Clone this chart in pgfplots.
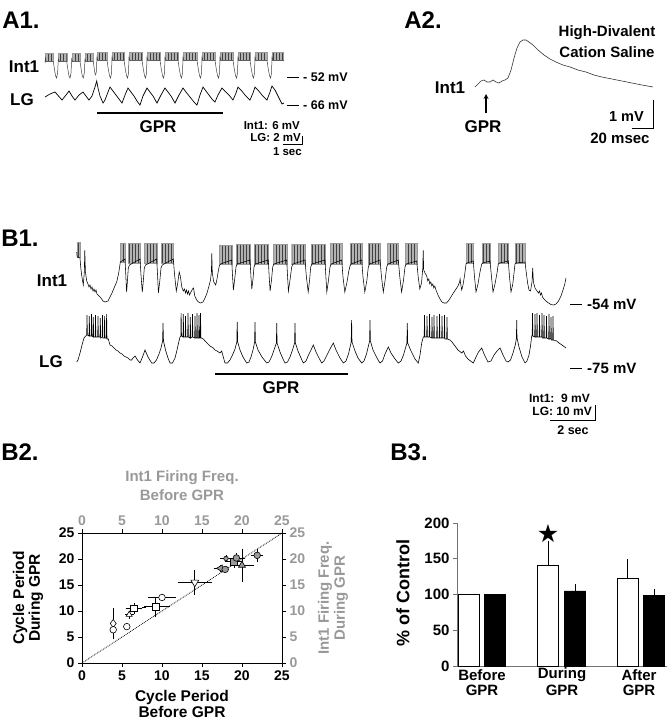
\documentclass[border=0pt]{standalone}
\usepackage{fontspec}
\setmainfont{Liberation Sans}
\newfontfamily\dejavu{DejaVu Sans}
\usepackage{pgfplots}
\pgfplotsset{compat=1.18}
\usetikzlibrary{patterns}
\newcommand{\fs}[1]{\fontsize{#1}{#1}\selectfont\bfseries}
\newcommand{\burst}[4]{\addplot[fill=black!30,draw=black!40,line width=0.3pt,postaction={pattern=vertical lines,pattern color=black!75}] coordinates {(#1,#4) (#1,#3) (#2,#3) (#2,#4)} -- cycle;}
\pgfplotsset{b2err/.style={error bars/.cd, x dir=both, y dir=both, x explicit, y explicit, error bar style={line width=0.7pt, black}, error mark options={line width=0.7pt, mark size=2pt, black}}}
\begin{document}
\begin{tikzpicture}
\useasboundingbox (0pt,0pt) rectangle (669pt,-720pt);
% ================= overlay axis in pixel units =================
\begin{axis}[at={(0pt,0pt)},anchor=north west,scale only axis,width=669pt,height=720pt,
  xmin=0,xmax=669,ymin=0,ymax=720,y dir=reverse,hide axis,clip=false]
% ---------- A1 ----------
\burst{45}{53.3}{53}{61.5}\burst{58.3}{66.7}{53}{61.5}\burst{71.7}{80}{53}{61.5}\burst{85}{93.3}{53}{61.5}
\burst{97}{107}{52}{60.5}\burst{112}{124}{52}{60.5}\burst{129}{142}{52}{60.5}\burst{147}{160}{52}{60.5}
\burst{165}{178}{52}{60.5}\burst{183}{197}{52}{60.5}\burst{202}{215}{52}{60.5}\burst{220}{233}{52}{60.5}
\burst{238}{250}{52}{60.5}\burst{255}{267}{52}{60.5}\burst{272}{283}{52}{60.5}
\addplot[black!75,line width=0.5pt] coordinates {
(45,63)(45.4,58)(46.2,61.5)(53.3,61.5)(54.4,69)(55.6,76)(56.6,78)(57.6,73)(58.3,59)
(59.2,61.5)(66.7,61.5)(67.8,69)(69,76)(70,78)(71,73)(71.7,59)
(72.6,61.5)(80,61.5)(81.1,69)(82.3,76)(83.3,78)(84.3,73)(85,59)
(85.9,61.5)(93.3,61.5)(94.3,69)(95.2,75)(96.2,73)(97,57)
(98,60.5)(107,60.5)(108.3,69)(109.6,76)(110.6,78)(111.5,73)(112,57)
(113,60.5)(124,60.5)(125.3,69)(126.6,76)(127.6,78)(128.5,73)(129,57)
(130,60.5)(142,60.5)(143.3,69)(144.6,76)(145.6,78)(146.5,73)(147,57)
(148,60.5)(160,60.5)(161.3,69)(162.6,76)(163.6,78)(164.5,73)(165,57)
(166,60.5)(178,60.5)(179.3,69)(180.6,76)(181.6,78)(182.5,73)(183,57)
(184,60.5)(197,60.5)(198.3,69)(199.6,76)(200.6,78)(201.5,73)(202,57)
(203,60.5)(215,60.5)(216.3,69)(217.6,76)(218.6,78)(219.5,73)(220,57)
(221,60.5)(233,60.5)(234.3,69)(235.6,76)(236.6,78)(237.5,73)(238,57)
(239,60.5)(250,60.5)(251.3,69)(252.6,76)(253.6,78)(254.5,73)(255,57)
(256,60.5)(267,60.5)(268.3,69)(269.6,76)(270.6,78)(271.5,73)(272,57)
(273,60.5)(283,60.5)(284,61)};
\addplot[black,line width=0.7pt] coordinates {
(45,97)(50,94)(55,92)(58.5,96)(62,100)(66,95)(69,91)(72,96)(75,100)(79,95)(83,92)(86,96)(89,100)(92,96)(95,87)(96.7,81)
(98,88)(100,96)(103,103)(105,100)(108,92)(110,87)(113,91)(116,95)(119,99)(122,103)(125,95)(128,88)(131,92)(134,96)
(137,101)(140,105)(143,96)(147,88)(150,92)(153,96)(157,103)(161,95)(165,88)(168,92)(171,96)(175,103)(179,95)(183,88)
(186,92)(190,97)(194,102)(197,105)(200,95)(203,87)(206,91)(209,95)(212,99)(215,102)(218,95)(222,88)(225,91)(229,95)
(233,100)(236,93)(238,87)(241,90)(245,95)(250,100)(253,93)(255,87)(258,90)(262,95)(267,100)(270,92)(272,86)(275,90)
(278,96)(282,104)(284,103)};
\node[font=\fs{24}] at (21,20) {A1.};
\node[font=\fs{17}] at (24,67) {Int1};
\node[font=\fs{17}] at (22,100) {LG};
\draw[line width=1pt] (287,77) -- (299,77);
\node[font=\fs{12.5},anchor=west,inner sep=0] at (303,77) {- 52 mV};
\draw[line width=1pt] (287,105) -- (299,105);
\node[font=\fs{12.5},anchor=west,inner sep=0] at (303,105) {- 66 mV};
\draw[line width=2.2pt] (97,113) -- (223,113);
\node[font=\fs{17}] at (158,127) {GPR};
\node[font=\fs{11.5},anchor=east,inner sep=0] at (300,126) {Int1: 6 mV};
\node[font=\fs{11.5},anchor=east,inner sep=0] at (301,138) {LG: 2 mV};
\draw[line width=1pt] (283,144) -- (302,144) -- (302,136);
\node[font=\fs{11.5},anchor=east,inner sep=0] at (302,152) {1 sec};
% ---------- A2 ----------
\addplot[black!80,line width=0.6pt] coordinates {
(475,87)(478,84)(481,81)(484,80)(487,82)(490,82)(493,80)(496,82)(499,83)(502,81)(505,80)(508,78)(511,70)(514,58)
(517,48)(520,42)(523,40)(526,40)(529,42)(533,45)(538,50)(544,55)(550,59)(556,62)(563,65)(570,67)(578,70)(586,72)
(594,75)(602,77)(612,79)(622,81)(632,83)(642,85)(653,87)};
\node[font=\fs{24}] at (423,20) {A2.};
\node[font=\fs{15}] at (607,33) {High-Divalent};
\node[font=\fs{15}] at (607,52) {Cation Saline};
\node[font=\fs{17}] at (450,88) {Int1};
\draw[->,>=stealth,line width=1.2pt] (486,113) -- (486,94);
\node[font=\fs{17}] at (483,127) {GPR};
\draw[line width=1pt] (632,128) -- (653,128) -- (653,100);
\node[font=\fs{14.5},anchor=east,inner sep=0] at (644,117) {1 mV};
\node[font=\fs{15}] at (620,138) {20 msec};
% ---------- B1 ----------
\burst{76.7}{80}{242}{257}\burst{120.3}{125}{243}{262}\burst{128.3}{140}{243}{263}\burst{144.3}{156.7}{243}{263}
\burst{161}{173.3}{243}{263}\burst{219.3}{231.7}{245}{264}\burst{236}{250}{244}{264}\burst{254}{268.3}{244}{264}
\burst{272.7}{286.7}{244}{264}\burst{291.7}{305}{244}{264}\burst{310.7}{325}{244}{264}\burst{330}{341.7}{243}{264}
\burst{350}{361.7}{243}{264}\burst{368.3}{380}{243}{264}\burst{386.7}{398.3}{243}{264}\burst{405}{416.7}{243}{264}
\burst{466}{473.3}{243}{263}\burst{481.7}{490}{243}{263}\burst{498.3}{508.3}{243}{263}\burst{515}{525}{243}{263}
\addplot[black,line width=0.55pt] coordinates {
(76.7,252)(77.2,257)(80,258)(80.8,268)(81.8,276)(83.3,285)(84.3,272)(84.8,250)(85.4,272)(86.7,281)(88,284)(89,287)
(90,285)(91,289)(92,287)(93,291)(94,289)(95,292)(96,290)(97,294)(99,296)(101,298)(103,301)(105,302)(108,301)(110,297)
(112,293)(114,288)(116.7,282)(118.5,274)(119.5,268)(120.3,262)(125,259)(125.8,275)(126.6,292)(127.5,280)(128.3,268)
(129.5,265)(140,259)(141,275)(142.3,292)(143.4,280)(144.3,268)(145.5,265)(156.7,259)(157.6,276)(158.4,293)(159.8,281)
(161,268)(162.2,265)(173.3,259)(174.5,274)(176.3,291)(177.6,284)(179.2,272)(180.3,276)(181.8,287)(183.3,291)(184.5,289)
(185.5,293)(186.5,290)(187.5,294)(188.5,291)(189.5,295)(191,292)(192.5,289)(193.5,288)(194.8,296)(196.7,300)(198.5,302)
(200.5,303)(203,302)(205,298)(207,293)(209,286)(210.5,280)(211.4,272)(211.8,253)(212.3,273)(213.8,282)(215.7,285)
(217,279)(218.3,271)(219.3,266)(220.5,264)(231.7,260)(232.6,277)(233.4,290)(234.6,280)(236,267)(237.2,264)(250,260)
(250.9,276)(251.8,289)(253,279)(254,267)(255.2,264)(268.3,260)(269.2,277)(270.1,291)(271.5,280)(272.7,267)(273.9,264)
(286.7,260)(287.6,277)(288.4,291)(290,280)(291.7,267)(292.9,264)(305,260)(306.4,277)(308.2,292)(309.6,280)(310.7,267)
(311.9,264)(325,260)(325.9,277)(326.8,292)(328.5,280)(330,267)(331.2,264)(341.7,260)(343,277)(344.8,292)(347,282)
(348.8,271)(350,266)(351.2,264)(361.7,260)(363,277)(364.8,292)(366.8,281)(368.3,267)(369.5,264)(380,260)(381.5,277)
(383.3,292)(385,281)(386.7,267)(387.9,264)(398.3,260)(399.8,277)(401.6,292)(403.4,281)(405,267)(406.2,264)(416.7,261)
(418.2,277)(419.8,289)(421.5,283)(422.8,268)(423.2,250)(423.7,270)(425,273)(426.7,276)(427.8,281)(428.8,279)(429.8,284)
(430.8,282)(431.8,286)(432.8,284)(433.8,288)(434.8,286)(436,290)(438,295)(440,299)(442,302)(444,303)(446.5,303)
(449,300)(451.5,296)(454,292)(456,289)(458,286)(459.6,282)(460.1,279)(460.7,284)(461.7,290)(463,285)(464.5,276)
(465.5,268)(466,264)(467.2,263)(473.3,261)(474.5,277)(476,292)(478,284)(480,272)(481.7,264)(482.9,263)(490,261)
(491.5,277)(493,292)(495,284)(497,273)(498.3,264)(499.5,263)(508.3,261)(509.5,277)(511,292)(512.8,284)(514,273)
(515,264)(516.2,263)(525,262)(526.2,272)(527.6,283)(529,290)(530.5,291)(532,282)(532.7,268)(533.4,282)(535,288)
(537,291)(538.5,293)(539.5,291)(540.5,295)(541.5,293)(542.5,297)(544,299)(546,301)(548.5,303)(551,304.5)(553.5,305)
(556,304)(558.5,301)(561,296)(563,290)(564.8,284)(566,278)};
\addplot[black,line width=0.6pt] coordinates {
(76.7,362)(78,360)(80,353)(82,345)(84,338)(85.7,336)
(86.7,335)(87,315)(87.4,335)(89,336)(89.3,316)(89.7,336)(91.2,336)(91.5,314)(91.9,336)(93,337)(93.3,317)(93.7,337)
(95.2,337)(95.5,315)(95.9,337)(97.7,337)(98,316)(98.4,337)(100,337)(100.3,318)(100.7,338)(102.2,337)(102.5,315)
(102.9,338)(104.3,338)(104.6,316)(105,338)(106.3,338)(106.6,314)(107,339)(108.3,339)
(110,345)(112,346)(114,348)(116,350)(118,351)(120,353)(122,354)(124,356)(126,357)(128,358)(130,360)(131.7,360)
(133,358)(135,356)(137.5,360)(140,363)(142.5,357)(145,350)(148,357)(151.7,363)(154,363)(156.5,360)(159,354)(161,348)
(162.6,341)(163,323)(163.5,341)(165.5,350)(168,358)(170,363)(172.5,363)(175,358)(177,350)(178.8,342)(180,337)
(180.8,336)(181.1,313)(181.5,336)(183,337)(183.3,314)(183.7,337)(185.2,337)(185.5,316)(185.9,337)(187.7,337)(188,313)
(188.4,337)(190,338)(190.3,317)(190.7,338)(192.2,337)(192.5,314)(192.9,337)(194.7,338)(195,316)(195.4,338)(196.7,338)
(197,313)(197.4,338)(198.7,338)(199,315)(199.4,338)(200.2,338)(200.5,313)(200.9,338)(201.7,338)
(203.3,339)(206,342)(208,344)(210,346)(213.3,348)(215,350)(217,351)(220,353)(221.7,351)(223.3,357)(225,363)(227.5,363)
(230,360)(232.5,355)(235,349)(236.8,342)(237.2,322)(237.7,342)(240,350)(243,357)(246.7,363)(249,362)(251,357)(253,350)
(254.6,342)(255,322)(255.4,342)(258,350)(262,357)(266.7,363)(269,362)(271.5,357)(274,350)(276.4,343)(276.7,323)
(277.1,343)(280,352)(283,359)(285,363)(287.5,362)(290,357)(292.5,350)(294.6,343)(295,323)(295.4,343)(298,351)(301,358)
(303.3,363)(306,361)(308.5,355)(311,350)(313.3,345)(316,352)(319,358)(321.7,363)(324,361)(327,355)(330,349)(333.3,343)
(336,350)(340,358)(343.3,363)(346,361)(348.5,354)(351.2,342)(351.6,320)(352,342)(355,351)(358,358)(361.7,363)(364,361)
(366.5,354)(369.6,341)(370,320)(370.4,341)(373,350)(377,358)(380,363)(382.5,361)(385,354)(388.3,347)(391,353)(395,359)
(398.3,363)(401,361)(403.5,355)(406.9,343)(407.3,323)(407.7,343)(411,351)(415,359)(418.3,363)(420,355)(421.7,343)
(423.3,337)(424.2,337)(424.5,315)(424.9,337)(426.7,337)(427,316)(427.4,337)(429.2,337)(429.5,314)(429.9,337)
(431.7,338)(432,317)(432.4,338)(433.7,338)(434,315)(434.4,338)(436.7,338)(437,316)(437.4,338)(439.2,338)(439.5,314)
(439.9,338)(441.7,338)(442,316)(442.4,338)(444.2,338)(444.5,315)(444.9,339)(446.7,339)(447,317)(447.4,339)(450,340)
(452,342)(455,346)(458,350)(461.7,353)(463.5,351)(465.5,356)(468,359)(470.5,361)(473.3,363)(476,357)(478.5,352)
(481.7,348)(484.5,355)(488,362)(491,361)(494,355)(497,351)(500,348)(503,355)(506,361)(508,362)(510.5,360)(513,353)
(515.5,344)(516.4,338)(516.7,320)(517,338)(519,347)(522,357)(525,363)(527,361)(529,355)(530.5,346)(531.7,336)
(532.2,336)(532.5,313)(532.9,336)(534.7,337)(535,314)(535.4,337)(536.7,337)(537,313)(537.4,337)(539.2,337)(539.5,315)
(539.9,337)(541.7,337)(542,313)(542.4,338)(543.7,338)(544,315)(544.4,338)(546.2,338)(546.5,316)(546.9,338)(548.7,339)
(549,314)(549.4,339)(550.7,339)(551,317)(551.4,340)(552.7,340)(553,316)(553.4,340)(556.7,341)(559,343)(562,345)(566,348)};
\node[font=\fs{24}] at (20,238) {B1.};
\node[font=\fs{17}] at (52,281) {Int1};
\node[font=\fs{17}] at (51,362) {LG};
\draw[line width=1pt] (570,304) -- (582,304);
\node[font=\fs{15},anchor=west,inner sep=0] at (587,304) {-54 mV};
\draw[line width=1pt] (570,368) -- (582,368);
\node[font=\fs{15},anchor=west,inner sep=0] at (587,368) {-75 mV};
\draw[line width=1.5pt] (215,374) -- (348,374);
\node[font=\fs{17}] at (281,388) {GPR};
\node[font=\fs{12},anchor=east,inner sep=0] at (590,398) {Int1:\ \ 9 mV};
\node[font=\fs{12},anchor=east,inner sep=0] at (592,411.5) {LG: 10 mV};
\draw[line width=1pt] (550,420) -- (595,420) -- (595,405);
\node[font=\fs{12.5}] at (573,430) {2 sec};
% ---------- B2 / B3 labels ----------
\node[font=\fs{24}] at (20,452) {B2.};
\node[font=\fs{24}] at (409,452) {B3.};
\node[font=\fs{15},text=black!40] at (182,478) {Int1 Firing Freq.};
\node[font=\fs{15},text=black!40] at (182,495) {Before GPR};
\node[font=\fs{15.5},rotate=90] at (20,598) {Cycle Period};
\node[font=\fs{15.5},rotate=90] at (36,598) {During GPR};
\node[font=\fs{15.5}] at (182,697) {Cycle Period};
\node[font=\fs{15.5}] at (182,712) {Before GPR};
\node[font=\fs{15},text=black!40,rotate=90] at (325,598) {Int1 Firing Freq.};
\node[font=\fs{15},text=black!40,rotate=90] at (341,598) {During GPR};
\node[font=\fs{18},rotate=90] at (403,593) {\% of Control};
\node[font=\fs{15}] at (482,675) {Before};
\node[font=\fs{15}] at (482,690) {GPR};
\node[font=\fs{15}] at (562,675) {During};
\node[font=\fs{15}] at (562,690) {GPR};
\node[font=\fs{15}] at (639,675) {After};
\node[font=\fs{15}] at (639,690) {GPR};
\end{axis}
% ================= B2 =================
\begin{axis}[at={(82pt,-663pt)},anchor=south west,scale only axis,width=200pt,height=130pt,
  xmin=0,xmax=25,ymin=0,ymax=25,xtick={0,5,10,15,20,25},ytick={0,5,10,15,20,25},
  axis x line*=bottom,axis y line*=left,axis line style={-,line width=1pt},
  tick align=outside,major tick length=4pt,every tick/.style={black,line width=1pt},
  ticklabel style={font=\fs{14}},clip=false,/pgf/number format/assume math mode=true]
\addplot[black,densely dotted,line width=0.8pt] coordinates {(0,0)(25,25)};
\addplot[only marks,mark=diamond*,mark size=4pt,mark options={fill=white,draw=black,line width=0.6pt},b2err] coordinates {(3.9,7.6) +- (0,2.6)};
\addplot[only marks,mark=*,mark size=3.3pt,mark options={fill=white,draw=black,line width=0.6pt},b2err] coordinates {(3.9,6.4) +- (0,1.4)};
\addplot[only marks,mark=*,mark size=3.3pt,mark options={fill=white,draw=black,line width=0.6pt}] coordinates {(5.6,7.0)};
\addplot[only marks,mark=triangle*,mark size=3.5pt,mark options={fill=white,draw=black,line width=0.6pt},b2err] coordinates {(5.9,9.3) +- (0.3,0.4)};
\addplot[only marks,mark=square*,mark size=3.3pt,mark options={fill=white,draw=black,line width=0.6pt},b2err] coordinates {(6.5,10.5) +- (0.8,0.7) (9.2,10.8) +- (1.5,1.5)};
\addplot[only marks,mark=*,mark size=3.3pt,mark options={fill=white,draw=black,line width=0.6pt},b2err] coordinates {(10.0,12.6) +- (1.5,0.3)};
\addplot[only marks,mark=triangle*,mark size=4.5pt,mark options={rotate=180,fill=white,draw=black,line width=0.6pt},b2err] coordinates {(14.1,15.5) +- (1.9,2.0)};
\addplot[only marks,mark=triangle*,mark size=4pt,mark options={rotate=90,fill=black!40,draw=black,line width=0.6pt},b2err] coordinates {(17.3,18.2) +- (0.6,0.3)};
\addplot[only marks,mark=*,mark size=3.3pt,mark options={fill=black!40,draw=black,line width=0.6pt}] coordinates {(17.9,18.0)};
\addplot[only marks,mark=*,mark size=2.3pt,mark options={fill=black!40,draw=black,line width=0.6pt},b2err] coordinates {(18.0,20.1) +- (0.5,0.2)};
\addplot[only marks,mark=square*,mark size=3.3pt,mark options={fill=black!40,draw=black,line width=0.6pt},b2err] coordinates {(19.0,19.5) +- (0.9,0.9)};
\addplot[only marks,mark=*,mark size=3.3pt,mark options={fill=black!40,draw=black,line width=0.6pt},b2err] coordinates {(19.3,20.2) +- (0.8,0.5)};
\addplot[only marks,mark=triangle*,mark size=4pt,mark options={fill=black!40,draw=black,line width=0.6pt},b2err] coordinates {(20.0,18.8) +- (1.3,2.8)};
\addplot[only marks,mark=*,mark size=3.3pt,mark options={fill=black!40,draw=black,line width=0.6pt},b2err] coordinates {(21.9,20.7) +- (0.5,0.8)};
\end{axis}
\begin{axis}[at={(82pt,-663pt)},anchor=south west,scale only axis,width=200pt,height=130pt,
  xmin=0,xmax=25,ymin=0,ymax=25,xtick={0,5,10,15,20,25},ytick={0,5,10,15,20,25},
  axis x line*=top,axis y line*=right,axis line style={-,line width=1pt},
  tick align=outside,major tick length=4pt,every tick/.style={black,line width=1pt},
  ticklabel style={font=\fs{14},text=black!40},clip=false,/pgf/number format/assume math mode=true]
\addplot[draw=none] coordinates {(0,0)};
\end{axis}
% ================= B3 =================
\begin{axis}[at={(457pt,-666pt)},anchor=south west,scale only axis,width=210pt,height=143pt,
  xmin=0,xmax=210,ymin=0,ymax=200,ytick={0,50,100,150,200},xtick=\empty,
  axis x line*=bottom,axis y line*=left,axis line style={-,line width=1pt,black!55},
  tick align=outside,major tick length=4pt,every tick/.style={black!55,line width=1pt},
  ticklabel style={font=\fs{15}},clip=false,/pgf/number format/assume math mode=true]
\addplot[ybar,bar width=21pt,bar shift=0pt,fill=white,draw=black,line width=0.8pt,
  error bars/.cd,y dir=plus,y explicit,error bar style={line width=0.8pt,black},error mark options={line width=0.8pt,mark size=3pt,black}]
  coordinates {(12,100) (91,141) +- (0,29) (170.5,123) +- (0,22)};
\addplot[ybar,bar width=21pt,bar shift=0pt,fill=black,draw=black,line width=0.8pt,
  error bars/.cd,y dir=plus,y explicit,error bar style={line width=0.8pt,black},error mark options={line width=0.8pt,mark size=3pt,black}]
  coordinates {(38,100) (118,105) +- (0,5) (197,99) +- (0,5)};
\node[font=\dejavu\fontsize{25}{25}\selectfont] at (axis cs:91,186) {★};
\end{axis}
\end{tikzpicture}
\end{document}
